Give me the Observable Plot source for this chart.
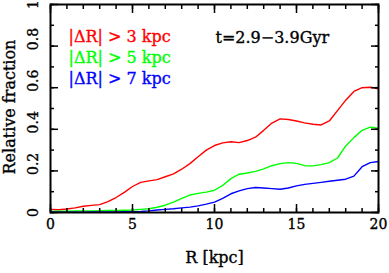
<!DOCTYPE html>
<html>
<head>
<meta charset="utf-8">
<script src="https://cdn.jsdelivr.net/npm/d3@7"></script>
<script src="https://cdn.jsdelivr.net/npm/@observablehq/plot@0.6"></script>
<style>
  html, body { margin: 0; padding: 0; background: #fff; }
</style>
</head>
<body>
<div id="chart"></div>
<script>
// ---- data ----
const radius = [0,0.5,1,1.5,2,2.5,3,3.5,4,4.5,5,5.5,6,6.5,7,7.5,8,8.5,9,9.5,10,10.5,11,11.5,12,12.5,13,13.5,14,14.5,15,15.5,16,16.5,17,17.5,18,18.5,19,19.5,20];
const frac3 = [0.015,0.013,0.017,0.022,0.030,0.034,0.038,0.052,0.072,0.097,0.125,0.145,0.152,0.158,0.172,0.186,0.208,0.235,0.268,0.300,0.322,0.335,0.340,0.336,0.346,0.362,0.395,0.430,0.450,0.447,0.440,0.431,0.424,0.421,0.440,0.490,0.540,0.582,0.600,0.602,0.595];
const frac5 = [0.005,0.006,0.006,0.007,0.008,0.008,0.009,0.010,0.010,0.011,0.012,0.015,0.018,0.025,0.035,0.050,0.068,0.084,0.092,0.098,0.107,0.130,0.163,0.184,0.190,0.198,0.210,0.225,0.235,0.240,0.236,0.225,0.224,0.230,0.240,0.262,0.320,0.360,0.395,0.410,0.405];
const frac7 = [0.002,0.002,0.002,0.002,0.002,0.003,0.003,0.003,0.003,0.004,0.004,0.005,0.008,0.012,0.015,0.018,0.022,0.026,0.032,0.040,0.050,0.068,0.090,0.104,0.115,0.120,0.118,0.115,0.112,0.118,0.128,0.135,0.140,0.145,0.150,0.155,0.160,0.175,0.220,0.240,0.245];
const seriesLabels = ["|ΔR| > 3 kpc", "|ΔR| > 5 kpc", "|ΔR| > 7 kpc"];
const seriesColors = ["#ff0000", "#00ff00", "#0000ff"];
const timeLabel = "t=2.9\u22123.9Gyr";
const xMajor = [0,5,10,15,20];
const xMinor = d3.range(0, 21, 1);
const yMajor = [0,0.2,0.4,0.6,0.8,1];
const yMinor = d3.range(0, 11, 1).map(d => d / 10);
const yEndLabels = [0, 1];
const yMidLabels = [0.2, 0.4, 0.6, 0.8];
const xLabel = "R [kpc]";
const yLabel = "Relative fraction";

const rows = [];
[frac3, frac5, frac7].forEach((arr, s) => arr.forEach((v, i) => rows.push({r: radius[i], f: v, s: seriesLabels[s]})));

const W = 389, H = 273;
const mL = 50, mR = 11, mT = 4, mB = 61;
const fontFamily = "'DejaVu Serif', serif";

const tk = {text: null, label: null, strokeWidth: 1.5, stroke: "#000"};
const heavy = c => ({fill: c, stroke: c, strokeWidth: 0.35});
const tickFont = {fontSize: 14, letterSpacing: -0.5, ...heavy("#000")};

const chart = Plot.plot({
  width: W, height: H,
  marginLeft: mL, marginRight: mR, marginTop: mT, marginBottom: mB,
  style: {fontFamily, fontSize: "16px", background: "#fff", color: "#000"},
  x: {domain: [0, 20], axis: null},
  y: {domain: [0, 1], axis: null},
  color: {domain: seriesLabels, range: seriesColors},
  marks: [
    Plot.line(rows, {x: "r", y: "f", z: "s", stroke: "s", strokeWidth: 1.4}),
    // inward ticks (outward axis ticks shifted into the frame)
    Plot.axisX({...tk, anchor: "bottom", ticks: xMinor, tickSize: 4, dy: -4}),
    Plot.axisX({...tk, anchor: "bottom", ticks: xMajor, tickSize: 8, dy: -8}),
    Plot.axisX({...tk, anchor: "top", ticks: xMinor, tickSize: 4, dy: 4}),
    Plot.axisX({...tk, anchor: "top", ticks: xMajor, tickSize: 8, dy: 8}),
    Plot.axisY({...tk, anchor: "left", ticks: yMinor, tickSize: 4, dx: 4}),
    Plot.axisY({...tk, anchor: "left", ticks: yMajor, tickSize: 8, dx: 8}),
    Plot.axisY({...tk, anchor: "right", ticks: yMinor, tickSize: 4, dx: -4}),
    Plot.axisY({...tk, anchor: "right", ticks: yMajor, tickSize: 8, dx: -8}),
    Plot.frame({stroke: "#000", strokeWidth: 2}),
    // tick labels
    Plot.text(xMajor, {...tickFont, x: d => d, frameAnchor: "bottom", dy: 16, text: d => String(d)}),
    Plot.text(yEndLabels, {...tickFont, y: d => d, frameAnchor: "left", dx: -17, rotate: -90, textAnchor: "middle", text: d => String(d)}),
    Plot.text(yMidLabels, {...tickFont, y: d => d, frameAnchor: "left", dx: -17, dy: -7, rotate: -90, textAnchor: "middle", text: d => d.toFixed(1)}),
    // axis titles
    Plot.text([xLabel], {...heavy("#000"), frameAnchor: "bottom", dy: 50, letterSpacing: 1.3, text: d => d}),
    Plot.text([yLabel], {...heavy("#000"), frameAnchor: "left", dx: -40.5, dy: -1.5, rotate: -90, letterSpacing: 1.3, textAnchor: "middle", text: d => d}),
    // legend texts
    Plot.text([seriesLabels[0]], {...heavy(seriesColors[0]), frameAnchor: "top-left", dx: 18, dy: 26.6, letterSpacing: 0.5, textAnchor: "start", text: d => d}),
    Plot.text([seriesLabels[1]], {...heavy(seriesColors[1]), frameAnchor: "top-left", dx: 18, dy: 47.4, letterSpacing: 0.5, textAnchor: "start", text: d => d}),
    Plot.text([seriesLabels[2]], {...heavy(seriesColors[2]), frameAnchor: "top-left", dx: 18, dy: 68.2, letterSpacing: 0.5, textAnchor: "start", text: d => d}),
    Plot.text([timeLabel], {...heavy("#000"), frameAnchor: "top-left", dx: 165, dy: 27, letterSpacing: 0.5, textAnchor: "start", text: d => d})
  ]
});
document.getElementById("chart").appendChild(chart);
</script>
</body>
</html>
